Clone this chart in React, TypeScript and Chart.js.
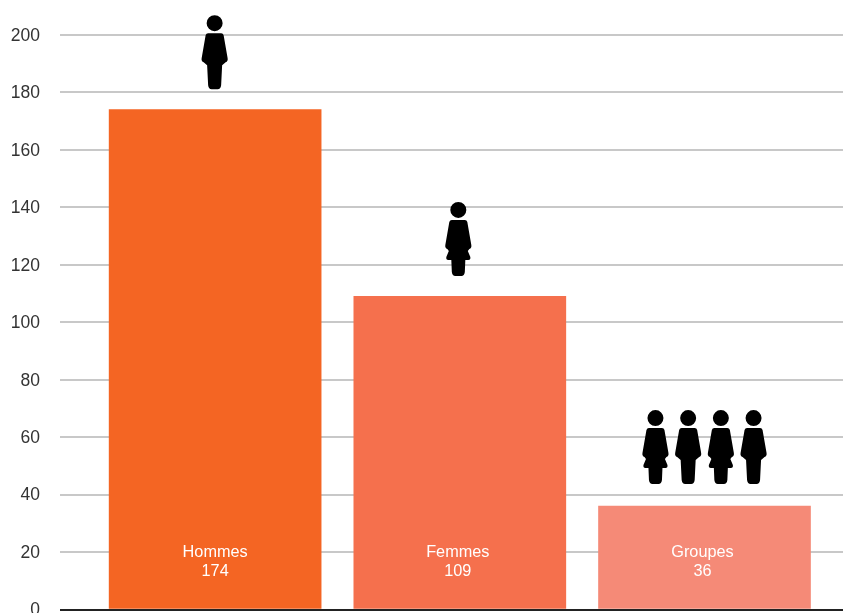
import { useEffect, useRef } from "react";
import { Chart, registerables } from "chart.js";

Chart.register(...registerables);

const categories = ["Hommes", "Femmes", "Groupes"];
const counts = [174, 109, 36];
const barColors = ["#f46523", "#f5704d", "#f58a77"];
// m = straight silhouette, f = silhouette with a skirt
const figures = [["m"], ["f"], ["f", "m", "f", "m"]];

const FONT = '"Liberation Sans", Arial, sans-serif';

function figurePath(kind: string): Path2D {
  const p = new Path2D();
  p.arc(0, -66, 8, 0, Math.PI * 2);
  p.closePath();
  p.moveTo(-6.5, -56);
  p.quadraticCurveTo(-8.5, -56, -9, -54);
  p.lineTo(-13, -31);
  p.quadraticCurveTo(-13.5, -28, -11, -27);
  if (kind === "f") {
    p.lineTo(-9.5, -25);
    p.lineTo(-12, -19);
    p.quadraticCurveTo(-12.5, -16, -10, -16);
    p.lineTo(-7, -16);
  } else {
    p.lineTo(-7.5, -24);
  }
  p.lineTo(-6.5, -4);
  p.quadraticCurveTo(-6, 0, -3, 0);
  p.lineTo(3, 0);
  p.quadraticCurveTo(6, 0, 6.5, -4);
  if (kind === "f") {
    p.lineTo(7, -16);
    p.lineTo(10, -16);
    p.quadraticCurveTo(12.5, -16, 12, -19);
    p.lineTo(9.5, -25);
  } else {
    p.lineTo(7.5, -24);
  }
  p.lineTo(11, -27);
  p.quadraticCurveTo(13.5, -28, 13, -31);
  p.lineTo(9, -54);
  p.quadraticCurveTo(8.5, -56, 6.5, -56);
  p.closePath();
  return p;
}

// Category name and count inside each bar, pictograms above it
const barAnnotations = {
  id: "barAnnotations",
  afterDatasetsDraw(chart: Chart) {
    const { ctx } = chart;
    const bars = chart.getDatasetMeta(0).data;
    const baseY = chart.scales.y.getPixelForValue(0);
    const textShift = [0, -2, -2];
    const figureShift = [-0.5, -1.5, 0];
    ctx.save();
    bars.forEach((bar, i) => {
      ctx.fillStyle = "#ffffff";
      ctx.font = `16.3px ${FONT}`;
      ctx.textAlign = "center";
      ctx.textBaseline = "middle";
      ctx.fillText(categories[i], bar.x + textShift[i], baseY - 57);
      ctx.fillText(String(counts[i]), bar.x + textShift[i], baseY - 38);

      const group = figures[i];
      const step = 32.7;
      const startX = bar.x + figureShift[i] - ((group.length - 1) * step) / 2;
      const bottom = bar.y - (group.length > 1 ? 22 : 20.5);
      ctx.fillStyle = "#000000";
      group.forEach((kind, k) => {
        ctx.save();
        ctx.translate(startX + k * step, bottom);
        ctx.fill(figurePath(kind));
        ctx.restore();
      });
    });
    ctx.restore();
  },
};

export default function App() {
  const ref = useRef<HTMLCanvasElement>(null);

  useEffect(() => {
    const chart = new Chart(ref.current!, {
      type: "bar",
      data: {
        datasets: [
          {
            data: counts.map((v, i) => ({ x: i, y: v })),
            backgroundColor: barColors,
            barThickness: 212,
          },
        ],
      },
      options: {
        animation: false,
        responsive: true,
        maintainAspectRatio: false,
        layout: { padding: { top: 35, bottom: 3.5, left: 0, right: 0 } },
        plugins: { legend: { display: false }, tooltip: { enabled: false } },
        scales: {
          x: {
            type: "linear",
            offset: false,
            min: -0.634,
            max: 2.566,
            display: false,
          },
          y: {
            min: 0,
            max: 200,
            // fixed gutter; the tick labels may overrun the plot's ends
            afterFit(scale: any) {
              scale.width = 60;
              scale.paddingTop = 0;
              scale.paddingBottom = 0;
            },
            border: { display: false },
            grid: {
              drawTicks: false,
              color: (c: any) => (c.tick.value === 0 ? "#222222" : "#c8c8c8"),
              lineWidth: 2,
            },
            ticks: {
              stepSize: 20,
              padding: 20,
              labelOffset: 1,
              color: "#333333",
              font: { family: FONT, size: 17.5 },
            },
          },
        },
      },
      plugins: [barAnnotations],
    } as any);
    return () => chart.destroy();
  }, []);

  return (
    <div style={{ position: "fixed", left: 0, top: 0, width: 843, height: 613 }}>
      <canvas ref={ref} />
    </div>
  );
}
